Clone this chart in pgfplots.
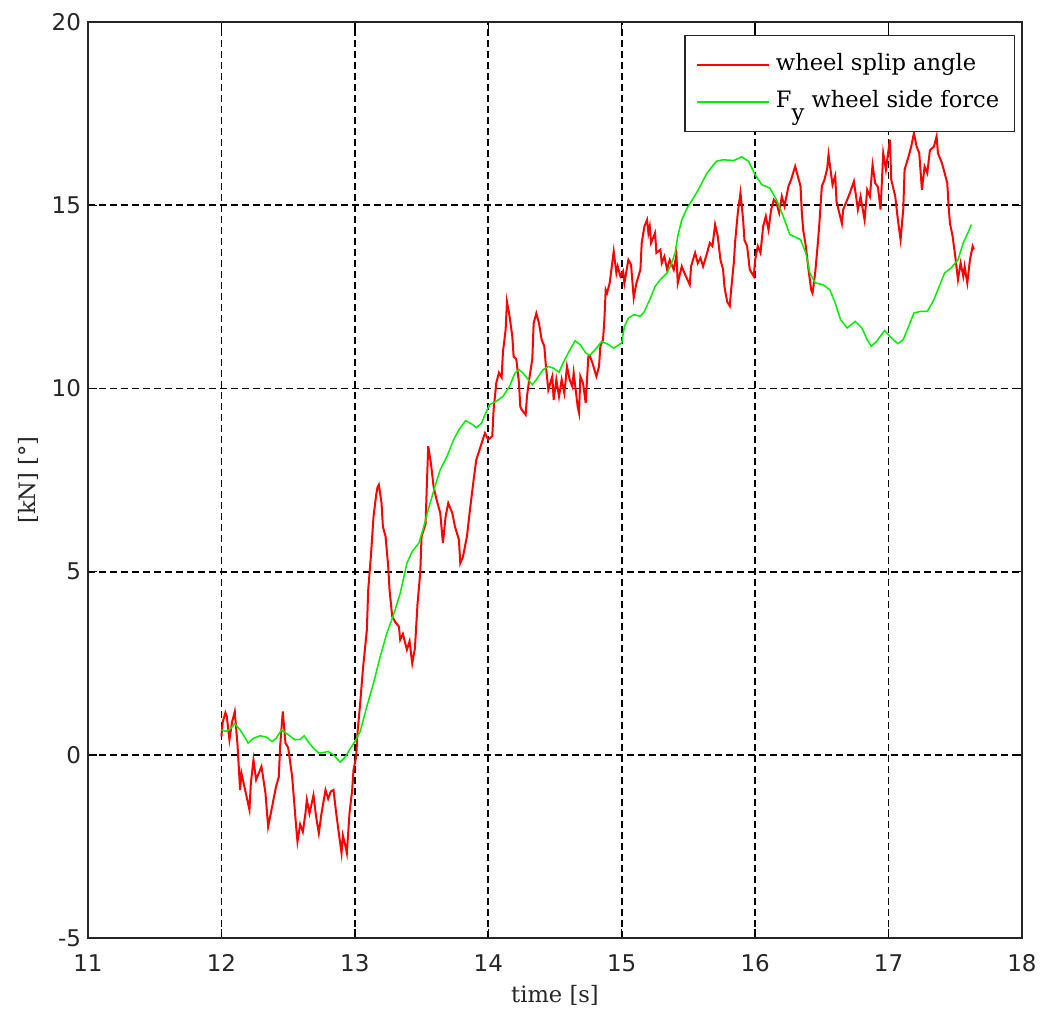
\documentclass[border=0pt]{standalone}
\usepackage{fontspec}
\setmainfont{DejaVu Serif}
\newfontfamily\tickfont{DejaVu Sans}
\usepackage{pgfplots}
\pgfplotsset{compat=1.18}
\definecolor{myred}{rgb}{1,0,0}
\definecolor{mygreen}{rgb}{0,0.93,0}
\begin{document}
\begin{tikzpicture}
\path[use as bounding box] (-44pt,-35pt) rectangle (477pt,469pt);
\begin{axis}[
 scale only axis, width=467pt, height=458pt,
 xmin=11, xmax=18, ymin=-5, ymax=20,
 xtick={11,12,13,14,15,16,17,18}, ytick={-5,0,5,10,15,20},
 xticklabels={11,12,13,14,15,16,17,18},
 yticklabels={-5,0,5,10,15,20},
 tick align=inside, major tick length=4.5pt,
 tick style={black, line width=0.7pt},
 grid=major,
 major grid style={black, line width=0.9pt, dash pattern=on 3.5pt off 2pt},
 axis line style={black!85, line width=0.8pt},
 ticklabel style={font=\tickfont\fontsize{11.5}{13}\selectfont, text=black!85},
 xticklabel style={anchor=center, yshift=-12.5pt},
 yticklabel style={anchor=east},
 xlabel={time [s]}, ylabel={[kN] [°]},
 label style={font=\fontsize{11.3}{13}\selectfont, text=black!85},
 xlabel style={at={(axis description cs:0.5,-0.0622)}, anchor=center},
 ylabel style={at={(axis description cs:-0.0642,0.5)}, anchor=center},
 legend style={at={(rel axis cs:0.9925,0.986)}, anchor=north east,
   draw=black!85, line width=0.7pt, fill=white,
   font=\fontsize{11.3}{13}\selectfont,
   inner xsep=5.5pt, inner ysep=6.2pt, column sep=1pt, row sep=1.5pt,
   cells={anchor=west},
   nodes={text height=9.5pt, text depth=3.5pt, inner xsep=2pt}},
 legend image code/.code={\draw[#1] (0pt,0pt) -- (36pt,0pt);},
]
\addplot[myred, line width=1pt] coordinates {
(12.00,0.5)(12.01,0.9)(12.03,1.15)(12.04,1.05)(12.06,0.41)(12.08,0.9)(12.10,1.18)(12.12,0.3)
(12.14,-0.96)(12.15,-0.5)(12.18,-1.0)(12.21,-1.5)(12.22,-0.8)(12.24,-0.14)(12.26,-0.68)(12.28,-0.5)
(12.30,-0.32)(12.33,-1.04)(12.35,-1.96)(12.38,-1.41)(12.41,-0.86)(12.43,-0.6)(12.44,0.23)(12.46,1.18)
(12.48,0.32)(12.50,0.2)(12.53,-0.59)(12.56,-1.96)(12.57,-2.37)(12.59,-1.9)(12.61,-2.1)(12.63,-1.59)
(12.64,-1.23)(12.66,-1.6)(12.69,-1.1)(12.71,-1.7)(12.73,-2.14)(12.75,-1.6)(12.78,-0.96)(12.80,-1.2)
(12.82,-1.0)(12.84,-0.96)(12.86,-1.59)(12.89,-2.41)(12.90,-2.68)(12.91,-2.2)(12.93,-2.5)(12.94,-2.68)
(12.96,-1.59)(12.98,-0.96)(12.99,-0.41)(13.01,-0.05)(13.02,0.6)(13.04,1.41)(13.06,2.32)(13.09,3.41)
(13.10,4.5)(13.12,5.41)(13.13,5.96)(13.14,6.5)(13.16,7.1)(13.17,7.3)(13.18,7.37)(13.20,6.87)
(13.21,6.23)(13.23,5.96)(13.25,5.14)(13.26,4.5)(13.28,3.78)(13.30,3.64)(13.33,3.5)(13.34,3.14)
(13.36,3.3)(13.39,2.87)(13.41,3.1)(13.43,2.5)(13.45,2.9)(13.47,4.14)(13.49,4.96)(13.50,5.96)
(13.53,6.3)(13.54,7.41)(13.55,8.42)(13.57,7.96)(13.59,7.32)(13.61,7.0)(13.64,6.6)(13.66,5.78)
(13.68,6.5)(13.70,6.87)(13.73,6.6)(13.75,6.23)(13.78,5.87)(13.79,5.23)(13.81,5.4)(13.84,5.96)
(13.86,6.6)(13.89,7.5)(13.91,8.05)(13.95,8.5)(13.975,8.78)(14.00,8.6)(14.03,8.7)(14.04,9.42)
(14.06,10.15)(14.08,10.43)(14.10,10.3)(14.11,11.0)(14.13,11.6)(14.14,12.37)(14.16,11.96)(14.18,11.42)
(14.19,10.87)(14.21,10.8)(14.23,10.15)(14.24,9.5)(14.25,9.42)(14.28,9.28)(14.29,9.78)(14.31,10.33)
(14.33,10.8)(14.34,11.78)(14.36,12.05)(14.38,11.78)(14.40,11.33)(14.42,11.15)(14.43,10.69)(14.45,9.96)
(14.48,10.33)(14.49,9.69)(14.51,10.24)(14.53,9.78)(14.55,10.24)(14.57,9.87)(14.59,10.6)(14.61,10.24)
(14.63,10.05)(14.64,10.42)(14.67,9.5)(14.68,9.33)(14.69,10.33)(14.71,10.15)(14.73,9.6)(14.75,10.87)
(14.76,10.9)(14.78,10.7)(14.81,10.33)(14.83,10.6)(14.84,11.15)(14.86,11.33)(14.87,11.87)(14.88,12.69)
(14.89,12.6)(14.91,12.88)(14.94,13.74)(14.96,13.15)(14.97,13.33)(14.99,13.06)(15.01,13.2)(15.02,12.87)
(15.05,13.51)(15.07,13.38)(15.09,12.47)(15.11,12.87)(15.14,13.24)(15.15,13.97)(15.17,14.42)(15.19,14.6)
(15.20,14.24)(15.21,14.42)(15.22,13.97)(15.25,14.24)(15.26,13.7)(15.29,13.79)(15.30,13.42)(15.32,13.6)
(15.34,13.24)(15.36,13.51)(15.39,13.24)(15.41,13.65)(15.42,12.87)(15.45,13.33)(15.47,13.15)(15.51,12.83)
(15.52,13.33)(15.55,13.7)(15.57,13.42)(15.59,13.56)(15.61,13.33)(15.64,13.7)(15.66,13.97)(15.68,13.88)
(15.70,14.47)(15.72,14.15)(15.74,13.51)(15.76,13.24)(15.77,12.78)(15.79,12.37)(15.81,12.25)(15.82,12.69)
(15.84,13.42)(15.85,14.0)(15.87,14.79)(15.89,15.34)(15.91,14.6)(15.92,14.05)(15.94,13.88)(15.96,13.24)
(15.99,13.06)(16.00,13.51)(16.02,13.88)(16.04,13.7)(16.06,14.42)(16.08,14.7)(16.10,14.33)(16.12,14.88)
(16.14,15.15)(16.16,15.06)(16.18,14.79)(16.20,15.24)(16.22,14.97)(16.25,15.52)(16.27,15.7)(16.30,16.06)
(16.32,15.79)(16.34,15.52)(16.35,14.79)(16.36,14.33)(16.38,13.88)(16.40,13.24)(16.42,12.69)(16.43,12.6)
(16.45,13.15)(16.47,13.97)(16.48,14.42)(16.50,15.52)(16.52,15.7)(16.54,16.0)(16.55,16.38)(16.56,16.1)
(16.58,15.56)(16.60,15.8)(16.61,15.1)(16.63,14.8)(16.65,14.5)(16.66,14.88)(16.69,15.15)(16.71,15.33)
(16.74,15.65)(16.76,15.15)(16.77,14.88)(16.79,15.24)(16.82,14.6)(16.84,15.42)(16.86,15.24)(16.88,16.1)
(16.90,15.6)(16.92,15.5)(16.94,14.88)(16.96,16.42)(16.98,15.97)(17.01,16.79)(17.02,15.7)(17.05,15.24)
(17.07,14.6)(17.09,14.06)(17.11,14.88)(17.12,15.97)(17.15,16.33)(17.17,16.6)(17.19,16.97)(17.21,16.6)
(17.23,16.42)(17.25,15.42)(17.27,16.06)(17.29,15.88)(17.31,16.5)(17.34,16.6)(17.36,16.88)(17.37,16.42)
(17.40,16.15)(17.42,15.88)(17.44,15.6)(17.45,14.97)(17.46,14.51)(17.48,14.15)(17.50,13.6)(17.52,12.97)
(17.54,13.42)(17.56,13.06)(17.57,13.33)(17.59,12.88)(17.61,13.51)(17.63,13.88)(17.64,13.79)
};
\addlegendentry{wheel splip angle}
\addplot[mygreen, line width=0.75pt] coordinates {
(12.00,0.68)(12.03,0.64)(12.06,0.68)(12.10,0.85)(12.14,0.68)(12.18,0.45)(12.20,0.32)(12.24,0.45)
(12.29,0.52)(12.34,0.48)(12.38,0.36)(12.41,0.45)(12.45,0.68)(12.50,0.55)(12.55,0.41)(12.59,0.42)
(12.62,0.52)(12.65,0.36)(12.69,0.18)(12.73,0.05)(12.76,0.06)(12.80,0.09)(12.84,0.0)(12.89,-0.2)
(12.93,-0.05)(12.96,0.14)(13.00,0.36)(13.04,0.64)(13.09,1.32)(13.14,1.96)(13.19,2.68)(13.24,3.32)
(13.29,3.82)(13.34,4.41)(13.39,5.23)(13.43,5.55)(13.48,5.78)(13.51,6.14)(13.55,6.69)(13.60,7.32)
(13.64,7.78)(13.69,8.14)(13.74,8.6)(13.78,8.87)(13.83,9.12)(13.88,9.02)(13.91,8.93)(13.95,9.05)
(13.97,9.24)(14.01,9.56)(14.06,9.65)(14.11,9.78)(14.16,10.06)(14.20,10.42)(14.23,10.51)(14.26,10.42)
(14.33,10.1)(14.36,10.24)(14.41,10.51)(14.45,10.6)(14.49,10.55)(14.53,10.44)(14.56,10.69)(14.60,10.97)
(14.65,11.3)(14.69,11.19)(14.73,10.97)(14.76,10.9)(14.80,11.05)(14.85,11.28)(14.90,11.2)(14.94,11.1)
(15.00,11.24)(15.02,11.69)(15.05,11.92)(15.09,12.01)(15.14,11.97)(15.17,12.1)(15.21,12.42)(15.25,12.78)
(15.29,12.97)(15.34,13.15)(15.37,13.38)(15.40,13.7)(15.42,14.15)(15.45,14.6)(15.49,14.92)(15.56,15.33)
(15.64,15.88)(15.71,16.2)(15.76,16.24)(15.84,16.22)(15.90,16.32)(15.95,16.2)(16.00,15.83)(16.05,15.56)
(16.11,15.47)(16.16,15.15)(16.21,14.7)(16.26,14.2)(16.34,14.06)(16.38,13.7)(16.41,13.15)(16.45,12.88)
(16.51,12.83)(16.56,12.69)(16.60,12.33)(16.64,11.88)(16.69,11.65)(16.75,11.83)(16.80,11.65)(16.84,11.33)
(16.87,11.15)(16.91,11.28)(16.97,11.58)(17.01,11.42)(17.07,11.22)(17.11,11.33)(17.15,11.69)(17.19,12.06)
(17.24,12.1)(17.29,12.1)(17.34,12.42)(17.39,12.88)(17.42,13.15)(17.47,13.29)(17.52,13.51)(17.56,13.97)
(17.60,14.29)(17.62,14.47)
};
\addlegendentry{F\raisebox{-0.55em}{y} wheel side force}
\end{axis}
\end{tikzpicture}
\end{document}
